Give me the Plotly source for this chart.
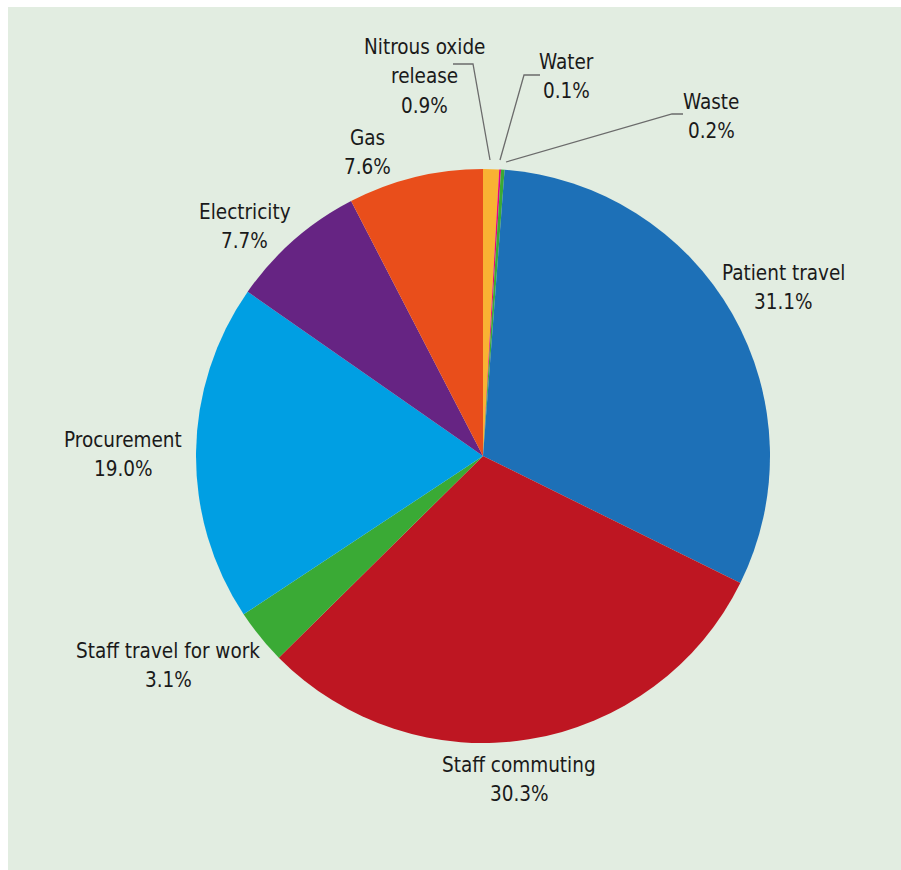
import plotly.graph_objects as go

# Data (clockwise from 12 o'clock)
labels = ["Nitrous oxide release", "Water", "Waste", "Patient travel", "Staff commuting",
          "Staff travel for work", "Procurement", "Electricity", "Gas"]
values = [0.9, 0.1, 0.2, 31.1, 30.3, 3.1, 19.0, 7.7, 7.6]
label_lines = [["Nitrous oxide", "release"], ["Water"], ["Waste"], ["Patient travel"],
               ["Staff commuting"], ["Staff travel for work"], ["Procurement"],
               ["Electricity"], ["Gas"]]
colors = ["#f9b233", "#e6007e", "#3aaa35", "#1d70b7", "#be1622",
          "#3aaa35", "#009fe3", "#662483", "#e94e1b"]

W, H = 901, 870
# label anchor: centre x and y of first line, in pixels (layout only)
label_pos = [(424, 47), (566, 62), (711, 102), (783, 273), (519, 765),
             (168, 651), (123, 440), (245, 212), (367, 138)]
LINE = 29.3

FONT = "DejaVu Sans Condensed, Liberation Sans Narrow, sans-serif"
BG = "#e2ede1"

fig = go.Figure(go.Pie(
    labels=labels, values=values, sort=False, direction="clockwise", rotation=0,
    marker=dict(colors=colors, line=dict(width=0)),
    textinfo="none", hoverinfo="label+percent", showlegend=False,
    domain=dict(x=[196 / W, 770 / W], y=[1 - 743 / H, 1 - 169 / H]),
))

def px(x, y):
    return x / W, 1 - y / H

annotations = []
for lines, v, (x, y) in zip(label_lines, values, label_pos):
    for i, t in enumerate(lines + [f"{v:.1f}%"]):
        ax, ay = px(x, y + i * LINE)
        annotations.append(dict(x=ax, y=ay, xref="paper", yref="paper", showarrow=False,
                                text=t, xanchor="center", yanchor="middle",
                                font=dict(family=FONT, size=20.5, color="#1a1a1a")))

# white frame strips at top and left
shapes = [
    dict(type="rect", xref="paper", yref="paper", x0=0, x1=1, y0=1 - 7 / H, y1=1,
         fillcolor="white", line=dict(width=0), layer="below"),
    dict(type="rect", xref="paper", yref="paper", x0=0, x1=8 / W, y0=0, y1=1,
         fillcolor="white", line=dict(width=0), layer="below"),
]
leaders = [
    [(490, 160), (473, 64), (453, 64)],
    [(500, 160), (524, 75), (540, 75)],
    [(506, 162), (672, 114), (683, 114)],
]
for pts in leaders:
    path = "M " + " L ".join(f"{px(x, y)[0]},{px(x, y)[1]}" for x, y in pts)
    shapes.append(dict(type="path", xref="paper", yref="paper", path=path,
                       line=dict(color="#6b6b6b", width=1.3)))

fig.update_layout(width=W, height=H, margin=dict(l=0, r=0, t=0, b=0),
                  paper_bgcolor=BG, plot_bgcolor=BG,
                  annotations=annotations, shapes=shapes)
fig.write_html("out.html",
               post_script="document.body.style.margin='0';document.body.style.background='%s';" % BG)
